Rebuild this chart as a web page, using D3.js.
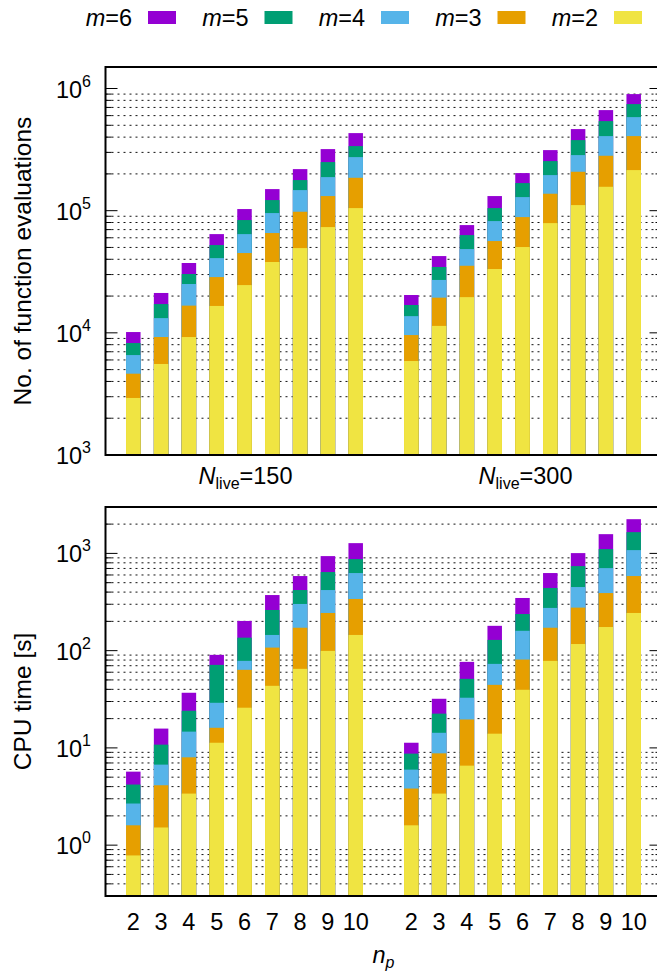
<!DOCTYPE html>
<html>
<head>
<meta charset="utf-8">
<script src="https://cdn.jsdelivr.net/npm/d3@7"></script>
<style>
  body { margin: 0; background: #fff; }
  text { font-family: "Liberation Sans", Arial, sans-serif; fill: #000; }
</style>
</head>
<body>
<svg width="657" height="974"></svg>
<script>
'use strict';

const npValues = [2, 3, 4, 5, 6, 7, 8, 9, 10];
const groupLabels = ['150', '300'];
const mLevels = [6, 5, 4, 3, 2];
const mColors = ['#9400d3', '#009e73', '#56b4e9', '#e69f00', '#f0e442'];

// number of function evaluations (top of each coloured segment), N_live=150
const evals150_m2 = [2930, 5560, 9240, 16600, 24600, 38000, 49400, 73400, 105000];
const evals150_m3 = [4630, 9240, 16700, 28600, 45000, 65600, 98000, 131700, 185900];
const evals150_m4 = [6580, 13200, 25100, 40900, 64300, 95600, 147400, 188300, 274500];
const evals150_m5 = [8250, 17200, 30300, 52300, 83800, 122100, 178000, 249900, 337800];
const evals150_m6 = [10150, 21200, 37300, 64300, 103100, 150200, 218900, 319200, 431500];

// N_live=300
const evals300_m2 = [5880, 11400, 19600, 33300, 50400, 79100, 111100, 156900, 214900];
const evals300_m3 = [9590, 19400, 35400, 56400, 88600, 137600, 208200, 281500, 407800];
const evals300_m4 = [13700, 27100, 48500, 82200, 129200, 195600, 285100, 407800, 583300];
const evals300_m5 = [16900, 34600, 63100, 105000, 168200, 254600, 378100, 541000, 745500];
const evals300_m6 = [20400, 42500, 76200, 131700, 203100, 313200, 465400, 665700, 900000];

// CPU time [s], N_live=150
const cpu150_m2 = [0.784, 1.52, 3.39, 11.3, 25.9, 43.5, 65.0, 99.4, 145];
const cpu150_m3 = [1.60, 4.13, 8.0, 16.1, 63.5, 107.5, 172, 244, 340];
const cpu150_m4 = [2.68, 6.73, 14.7, 29.1, 78.5, 145, 302, 420, 628];
const cpu150_m5 = [4.20, 10.8, 24.1, 71.4, 136, 262, 420, 643, 874];
const cpu150_m6 = [5.70, 15.8, 36.9, 90.5, 202, 373, 585, 938, 1275];

// N_live=300
const cpu300_m2 = [1.60, 3.39, 6.57, 14.0, 39.6, 78.5, 117, 175, 244];
const cpu300_m3 = [3.82, 8.79, 19.6, 44.5, 81.0, 172, 277, 391, 585];
const cpu300_m4 = [5.98, 14.3, 32.8, 73.1, 160, 275, 451, 706, 1081];
const cpu300_m5 = [8.73, 22.5, 51.3, 129, 238, 441, 740, 1107, 1654];
const cpu300_m6 = [11.3, 32.0, 76.7, 180, 348, 628, 1007, 1577, 2248];

const svg = d3.select('svg');
const FS = 23.5;
const SUB = 16;

const x = d3.scaleLinear().domain([-1, 19]).range([105.5, 661.5]);
const barW = 14.5;
const slot = (g, i) => g * 10 + i;

function drawPanel(cfg) {
  const y = d3.scaleLog().domain(cfg.domain).range([cfg.bottom, cfg.top]);
  const left = x.range()[0], right = x.range()[1];
  const g = svg.append('g');

  const all = y.ticks().filter(v => v >= cfg.domain[0] && v <= cfg.domain[1]);
  const isMajor = v => Math.abs(Math.log10(v) - Math.round(Math.log10(v))) < 1e-9;
  const minors = all.filter(v => !isMajor(v) && v > cfg.domain[0] && v < cfg.domain[1]);
  const majors = all.filter(isMajor);

  g.selectAll('.grid').data(minors).enter().append('line')
    .attr('x1', left).attr('x2', right)
    .attr('y1', d => y(d)).attr('y2', d => y(d))
    .attr('stroke', '#111').attr('stroke-width', 1)
    .attr('stroke-dasharray', '2,4');

  // bars: largest m first so smaller ones sit on top
  const rows = [];
  cfg.series.forEach((grp, gi) => {
    grp.forEach((vals, mi) => {
      vals.forEach((v, i) => rows.push({ s: slot(gi, i), v: v, mi: mi }));
    });
  });
  g.selectAll('.bar').data(rows).enter().append('rect')
    .attr('x', d => x(d.s) - barW / 2)
    .attr('width', barW)
    .attr('y', d => y(d.v))
    .attr('height', d => cfg.bottom - y(d.v))
    .attr('fill', d => mColors[d.mi]);

  // ticks (left and mirrored right)
  [[left, 1], [right, -1]].forEach(([xx, dir]) => {
    g.selectAll(null).data(majors).enter().append('line')
      .attr('x1', xx).attr('x2', xx + dir * 12)
      .attr('y1', d => y(d)).attr('y2', d => y(d))
      .attr('stroke', '#000').attr('stroke-width', 1);
    g.selectAll(null).data(minors).enter().append('line')
      .attr('x1', xx).attr('x2', xx + dir * 6)
      .attr('y1', d => y(d)).attr('y2', d => y(d))
      .attr('stroke', '#000').attr('stroke-width', 1);
  });

  const lbl = g.selectAll('.ylab').data(majors).enter().append('text')
    .attr('x', 91).attr('y', d => y(d) + 9)
    .attr('text-anchor', 'end')
    .attr('font-size', FS);
  lbl.append('tspan').text('10');
  lbl.append('tspan').attr('dy', -11).attr('font-size', SUB)
    .text(d => Math.round(Math.log10(d)));

  g.append('rect')
    .attr('x', left).attr('y', cfg.top)
    .attr('width', right - left).attr('height', cfg.bottom - cfg.top)
    .attr('fill', 'none').attr('stroke', '#000').attr('stroke-width', 2);

  g.append('text')
    .attr('transform', `translate(31,${(cfg.top + cfg.bottom) / 2}) rotate(-90)`)
    .attr('text-anchor', 'middle')
    .attr('font-size', 24.5)
    .text(cfg.title);
}

drawPanel({
  domain: [1e3, 1.5e6], top: 67, bottom: 455,
  title: 'No. of function evaluations',
  series: [
    [evals150_m6, evals150_m5, evals150_m4, evals150_m3, evals150_m2],
    [evals300_m6, evals300_m5, evals300_m4, evals300_m3, evals300_m2]
  ]
});

drawPanel({
  domain: [0.3, 3000], top: 507, bottom: 896,
  title: 'CPU time [s]',
  series: [
    [cpu150_m6, cpu150_m5, cpu150_m4, cpu150_m3, cpu150_m2],
    [cpu300_m6, cpu300_m5, cpu300_m4, cpu300_m3, cpu300_m2]
  ]
});

// group labels between panels
groupLabels.forEach((n, gi) => {
  const t = svg.append('text')
    .attr('x', x(slot(gi, 4)) + 1 + gi * 2).attr('y', 484)
    .attr('text-anchor', 'middle').attr('font-size', FS);
  t.append('tspan').attr('font-style', 'italic').text('N');
  t.append('tspan').attr('dy', 5).attr('font-size', SUB).text('live');
  t.append('tspan').attr('dy', -5).text('=' + n);
});

// x tick labels
const xt = [];
groupLabels.forEach((n, gi) => npValues.forEach((p, i) => xt.push({ s: slot(gi, i), p: p })));
svg.selectAll('.xlab').data(xt).enter().append('text')
  .attr('x', d => x(d.s)).attr('y', 930)
  .attr('text-anchor', 'middle').attr('font-size', FS)
  .text(d => d.p);

const xTitle = svg.append('text')
  .attr('x', x(9)).attr('y', 963)
  .attr('text-anchor', 'middle').attr('font-size', FS);
xTitle.append('tspan').attr('font-style', 'italic').text('n');
xTitle.append('tspan').attr('dy', 5).attr('font-size', SUB).attr('font-style', 'italic').text('p');

// legend
const leg = svg.selectAll('.leg').data(mLevels).enter().append('g')
  .attr('transform', (d, i) => `translate(${148 + i * 116.5},0)`);
leg.append('rect')
  .attr('x', 0).attr('y', 11).attr('width', 28).attr('height', 13)
  .attr('fill', (d, i) => mColors[i]);
const lt = leg.append('text')
  .attr('x', -16).attr('y', 25.5)
  .attr('text-anchor', 'end').attr('font-size', FS);
lt.append('tspan').attr('font-style', 'italic').text('m');
lt.append('tspan').text(d => '=' + d);
</script>
</body>
</html>
